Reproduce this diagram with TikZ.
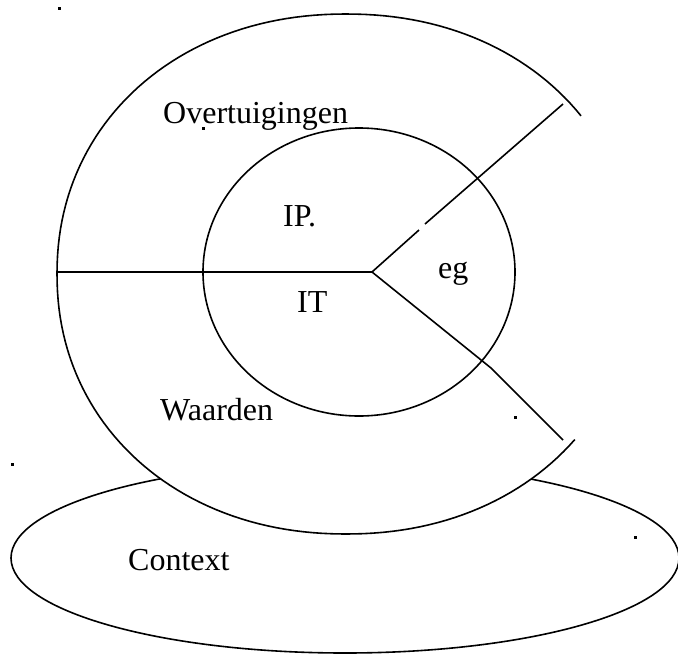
\documentclass[tikz,border=0pt]{standalone}
\usepackage{fontspec}
\setmainfont{Liberation Serif}
\begin{document}
\begin{tikzpicture}[x=1pt,y=1pt,
  outline/.style={line width=1.6pt,black},
  label/.style={font=\fontsize{32}{38}\selectfont,inner sep=0pt,anchor=base west},
  speck/.style={fill=black}]
\useasboundingbox (0,0) rectangle (678,-654);

% context ellipse underneath everything
\draw[outline] (345,-558) ellipse [x radius=334, y radius=95];

% large open ring (slightly full-bodied oval), blanked inside so it hides
% the top of the context ellipse
\fill[white] plot[domain=0.5:360.5, samples=181, variable=\t]
  ({346+289*cos(\t)*abs(cos(\t))^(-0.0476)},
   {-274+260*sin(\t)*abs(sin(\t))^(-0.0476)}) -- cycle;
\draw[outline, line join=round] plot[domain=36.4:321.5, samples=160, variable=\t]
  ({346+289*cos(\t)*abs(cos(\t))^(-0.0476)},
   {-274+260*sin(\t)*abs(sin(\t))^(-0.0476)});

% inner circle
\draw[outline] (359,-272) ellipse [x radius=156, y radius=144];

% dividing lines
\coordinate (hub) at (372,-272);
\coordinate (west) at (57,-272);
\coordinate (gapA) at (419,-230);
\coordinate (gapB) at (425,-224);
\coordinate (northeast) at (563,-104);
\coordinate (bend) at (491,-368);
\coordinate (southeast) at (563,-440);
\draw[outline] (west) -- (hub);
\draw[outline] (hub) -- (gapA);
\draw[outline] (gapB) -- (northeast);
\draw[outline] (hub) -- (bend) -- (southeast);

% labels
\node[label] (overt) at (163,-123) {Overtuigingen};
\node[label] (ip) at (283,-226) {IP.};
\node[label] (eg) at (438,-278) {eg};
\node[label] (it) at (297,-312) {IT};
\node[label] (waarden) at (160,-420) {Waarden};
\node[label] (context) at (128,-570) {Context};

% stray specks
\fill[speck] (58,-7) rectangle (61,-9.5);
\fill[speck] (11,-463) rectangle (13.5,-465.5);
\fill[speck] (514,-416) rectangle (517,-418.5);
\fill[speck] (634,-536) rectangle (637,-538.5);
\fill[speck] (202,-127) rectangle (204.5,-129.5);
\end{tikzpicture}
\end{document}
